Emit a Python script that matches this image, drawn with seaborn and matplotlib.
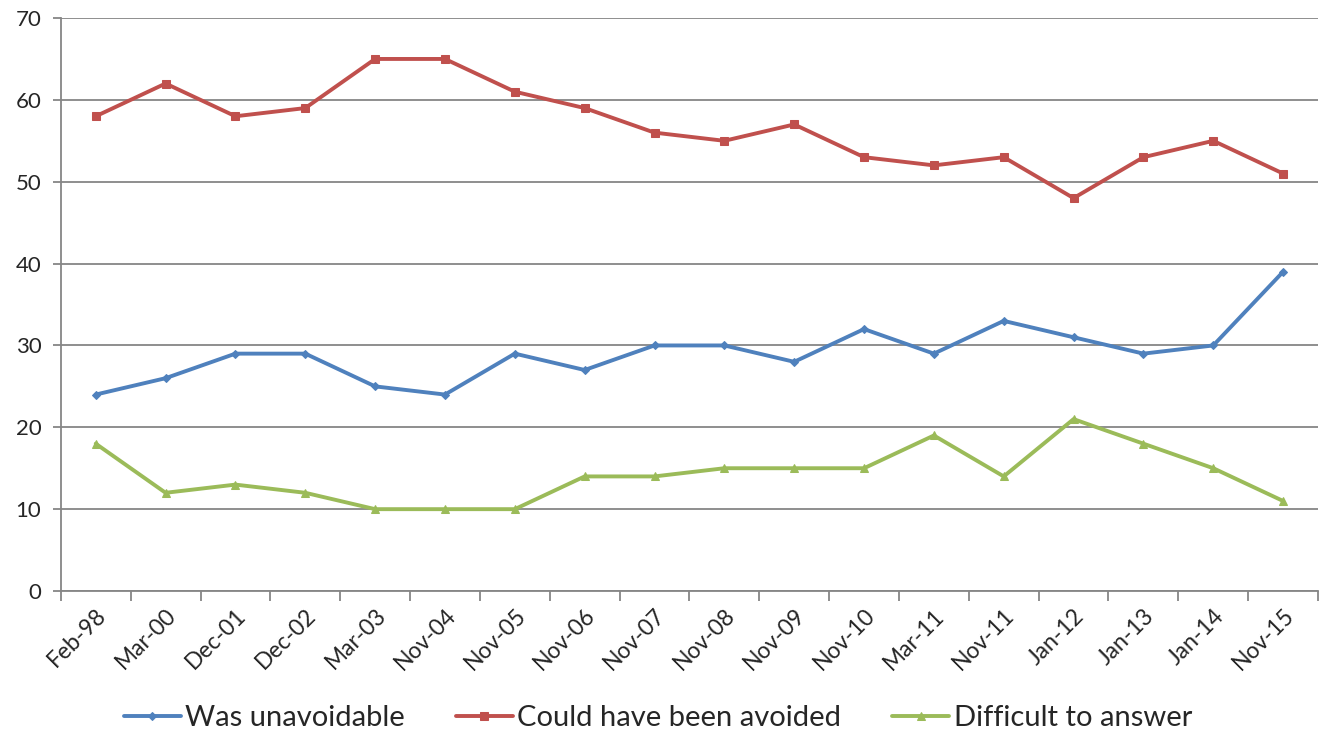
import pandas as pd
import matplotlib
matplotlib.use("Agg")
import matplotlib.pyplot as plt
import seaborn as sns

dates = ["Feb-98", "Mar-00", "Dec-01", "Dec-02", "Mar-03", "Nov-04", "Nov-05",
         "Nov-06", "Nov-07", "Nov-08", "Nov-09", "Nov-10", "Mar-11", "Nov-11",
         "Jan-12", "Jan-13", "Jan-14", "Nov-15"]
unavoidable = [24, 26, 29, 29, 25, 24, 29, 27, 30, 30, 28, 32, 29, 33, 31, 29, 30, 39]
avoidable = [58, 62, 58, 59, 65, 65, 61, 59, 56, 55, 57, 53, 52, 53, 48, 53, 55, 51]
difficult = [18, 12, 13, 12, 10, 10, 10, 14, 14, 15, 15, 15, 19, 14, 21, 18, 15, 11]

series = [
    ("Was unavoidable", unavoidable, "#4F81BD", "D", 4),
    ("Could have been avoided", avoidable, "#C0504D", "s", 6),
    ("Difficult to answer", difficult, "#9BBB59", "^", 6),
]

sns.set_style("white")
plt.rcParams["font.family"] = ["Lato", "DejaVu Sans"]

fig = plt.figure(figsize=(13.22, 7.33), dpi=100)
ax = fig.add_axes([0.046, 0.1937, 0.951, 0.7817])

pos = list(range(len(dates)))
for name, vals, color, marker, ms in series:
    df = pd.DataFrame({"pos": pos, "value": vals})
    sns.lineplot(data=df, x="pos", y="value", ax=ax, color=color, linewidth=2.8,
                 marker=marker, markersize=ms, markeredgecolor=color, label=name)

ax.set_xlim(-0.5, len(dates) - 0.5)
ax.set_ylim(0, 70)
ax.set_yticks(range(0, 71, 10))
ax.yaxis.grid(True, color="#868686", linewidth=1.3)
ax.set_axisbelow(True)

ax.set_xticks([p - 0.5 for p in range(len(dates) + 1)])
ax.set_xticklabels([])
ax.set_xticks(pos, minor=True)
ax.set_xticklabels(dates, minor=True, rotation=45, ha="right", rotation_mode="anchor",
                   fontsize=16.5)
ax.tick_params(axis="x", which="major", direction="out", length=7, width=1.3,
               color="#868686", bottom=True)
ax.tick_params(axis="x", which="minor", length=0, pad=10)
ax.tick_params(axis="y", direction="out", length=6, width=1.3, color="#868686",
               left=True, labelsize=16, pad=8)

for side in ["top", "right"]:
    ax.spines[side].set_visible(False)
for side in ["left", "bottom"]:
    ax.spines[side].set_color("#868686")
    ax.spines[side].set_linewidth(1.3)

ax.set_xlabel("")
ax.set_ylabel("")
ax.legend(loc="lower center", bbox_to_anchor=(0.475, -0.29), ncol=3, frameon=False,
          fontsize=21, handlelength=1.95, handletextpad=0.15, columnspacing=1.75)

fig.savefig("out.png", dpi=100)
